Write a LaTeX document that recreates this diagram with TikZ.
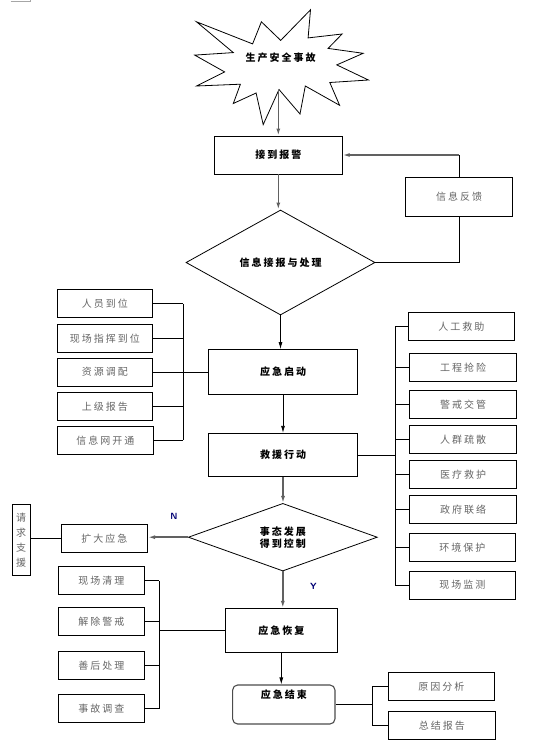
\documentclass[tikz,border=0pt]{standalone}
\usepackage{fontspec}
\newfontfamily\cjk[LetterSpace=20]{Noto Sans CJK SC}
\usetikzlibrary{shapes.geometric,arrows.meta}

\begin{document}
\begin{tikzpicture}[x=1pt,y=-1pt,
 boldtext/.style ={font=\cjk\fontsize{10}{12}\selectfont\bfseries},
 box/.style ={draw=black,line width=.8pt,inner sep=0pt,boldtext},
 side/.style ={draw=black,line width=.8pt,inner sep=0pt,minimum height=28pt,text=black!60,font=\cjk\fontsize{10}{12}\selectfont},
 decision/.style ={diamond,draw=black,line width=.8pt,inner sep=0pt,align=center,boldtext},
 flow/.style ={-{Latex[length=7pt,width=4pt]},draw=black,line width=.8pt},
 flowgray/.style ={-{Latex[length=7pt,width=4pt]},draw=black!62,line width=1.5pt},
 link/.style ={-,draw=black,line width=.8pt},
 yesno/.style ={font=\sffamily\bfseries\small,text=blue!45!black}
 ]
\useasboundingbox (0,0) rectangle (550,755);
%draw corner mark
\draw[black!35,line width=.6pt] (10.5,1) -- (30,1) -- (30,0);
%draw accident star
\draw[line width=.8pt] (196.5,21.8) -- (252.6,43.9) -- (261.4,21.8) -- (280.7,40.4) -- (310.5,9.8)
  -- (308.1,37.9) -- (342.1,34) -- (328.1,48.4) -- (363.2,53.3) -- (336.8,64.9) -- (368.4,80)
  -- (329.8,82.5) -- (339.6,105.3) -- (305.3,86) -- (300,114) -- (279,89.5) -- (263.2,124.6)
  -- (256.1,93) -- (233.3,103.5) -- (240.4,84.2) -- (196.5,86) -- (224.6,71.9) -- (194.7,55.1)
  -- (233.3,52.6) -- cycle;
\node[boldtext] (accident) at (280.7,57.9) {生产安全事故};
\coordinate (starfoot) at (278.3,89.5);
%draw alarm and information handling
\node[box,minimum width=128pt,minimum height=38pt] (alarm) at (278.3,155) {接到报警};
\node[side,minimum width=106.6pt,minimum height=39pt] (feedback) at (459,196.8) {信息反馈};
\node[decision,minimum width=189pt,minimum height=105pt] (infocheck) at (280.5,262.5) {信息接报与处理};
\draw[flowgray] (starfoot) -- (alarm.north);
\draw[flowgray] (alarm.south) -- (alarm.south |- infocheck.north);
\draw[link] (infocheck.east) -| (feedback.south);
\draw[link] (feedback.north) -- (feedback.north |- alarm.east);
\draw[flowgray] (feedback.north |- alarm.east) -- (alarm.east);
%draw emergency start
\node[box,minimum width=149.4pt,minimum height=45pt] (launch) at (283,372) {应急启动};
\draw[flow] (infocheck.south) -- (infocheck.south |- launch.north);
\node[side,minimum width=95pt] (staff) at (104.8,303.8) {人员到位};
\node[side,minimum width=95pt] (command) at (104.8,338.8) {现场指挥到位};
\node[side,minimum width=95pt] (resource) at (104.8,372) {资源调配};
\node[side,minimum width=95pt] (report) at (104.8,406.3) {上级报告};
\node[side,minimum width=96pt] (network) at (105.3,440.2) {信息网开通};
\coordinate (leftbus) at (183.3,0);
\foreach \n in {staff,command,report,network}
  \draw[link] (\n.east) -- (\n.east -| leftbus);
\draw[link] (staff.east -| leftbus) -- (network.east -| leftbus);
\draw[link] (resource.east) -- (launch.west);
%draw rescue action
\node[box,minimum width=149.4pt,minimum height=43.4pt] (rescue) at (283,455) {救援行动};
\draw[flow] (launch.south) -- (rescue.north);
\node[side,minimum width=106pt] (aid) at (461.3,326.3) {人工救助};
\node[side,minimum width=107pt] (repair) at (463,367.2) {工程抢险};
\node[side,minimum width=107pt] (cordon) at (463,404.2) {警戒交管};
\node[side,minimum width=107pt] (evacuate) at (463,439.3) {人群疏散};
\node[side,minimum width=107pt] (medical) at (463,474.3) {医疗救护};
\node[side,minimum width=107pt] (liaison) at (463,509.3) {政府联络};
\node[side,minimum width=106pt] (environ) at (462.3,547.2) {环境保护};
\node[side,minimum width=106pt] (monitor) at (462.3,585) {现场监测};
\coordinate (rightbus) at (395,0);
\foreach \n in {aid,repair,cordon,evacuate,medical,liaison,environ,monitor}
  \draw[link] (\n.west) -- (\n.west -| rightbus);
\draw[link] (aid.west -| rightbus) -- (monitor.west -| rightbus);
\draw[link] (rescue.east) -- (rescue.east -| rightbus);
%draw control decision
\node[decision,minimum width=189pt,minimum height=64pt] (control) at (282.8,537.2) {事态发展\\得到控制};
\draw[flowgray] (rescue.south) -- (rescue.south |- control.north);
\node[side,minimum width=86.7pt] (expand) at (104.3,538.3) {扩大应急};
\node[side,minimum width=17.7pt,minimum height=71.4pt,align=center,font=\cjk\fontsize{10}{15}\selectfont] (support) at (21.2,540) {请\\求\\支\\援};
\draw[flowgray] (control.west) -- (control.west -| expand.east);
\draw[link] (expand.west) -- (expand.west -| support.east);
\node[yesno] (no) at (174,516) {N};
\node[yesno] (yes) at (313.3,586.7) {Y};
%draw recovery
\node[box,minimum width=112pt,minimum height=44pt] (recovery) at (281.3,630.3) {应急恢复};
\draw[flowgray] (control.south) -- (control.south |- recovery.north);
\node[side,minimum width=86pt] (cleanup) at (101.3,580.8) {现场清理};
\node[side,minimum width=86pt] (alert) at (101.3,621.3) {解除警戒};
\node[side,minimum width=86pt] (aftercare) at (101.3,665.5) {善后处理};
\node[side,minimum width=86pt] (inquiry) at (101.3,708.5) {事故调查};
\coordinate (lowbus) at (159.3,0);
\foreach \n in {cleanup,alert,aftercare,inquiry}
  \draw[link] (\n.east) -- (\n.east -| lowbus);
\draw[link] (cleanup.east -| lowbus) -- (inquiry.east -| lowbus);
\draw[link] (recovery.west -| lowbus) -- (recovery.west);
%draw emergency end
\node[draw=black!70,line width=1.1pt,rounded corners=5pt,minimum width=102.3pt,minimum height=39pt,
  label={[boldtext,inner sep=0pt,anchor=north,yshift=-5pt]north:应急结束}] (finish) at (283.8,704.5) {};
\draw[flow] (recovery.south) -- (recovery.south |- finish.north);
\node[side,minimum width=106pt] (cause) at (441.3,686.7) {原因分析};
\node[side,minimum width=107pt] (summary) at (441.8,725.4) {总结报告};
\coordinate (endbus) at (372.3,0);
\foreach \n in {cause,summary}
  \draw[link] (\n.west) -- (\n.west -| endbus);
\draw[link] (cause.west -| endbus) -- (summary.west -| endbus);
\draw[link] (finish.east) -- (finish.east -| endbus);
\end{tikzpicture}
\end{document}
